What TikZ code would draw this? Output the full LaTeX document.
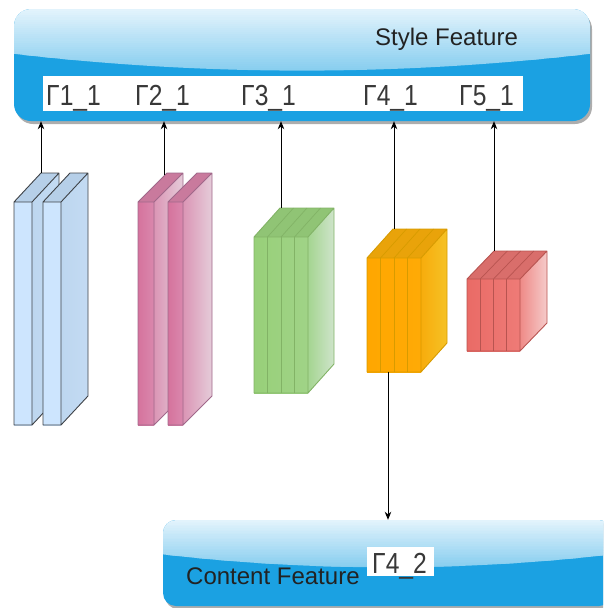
\documentclass[tikz,border=0pt]{standalone}
\usepackage{fontspec}
\usepackage{graphicx}
\setmainfont{Liberation Sans}
\usetikzlibrary{arrows.meta,calc}

% palettes of the feature cubes
\definecolor{bluefrontA}{HTML}{CDE5FE}
\definecolor{bluefrontB}{HTML}{CDE5FE}
\definecolor{bluetop}{HTML}{B6CFE8}
\definecolor{bluesideA}{HTML}{BDD6EF}
\definecolor{bluesideB}{HTML}{C3DBF3}
\definecolor{blueline}{HTML}{3E4247}
\definecolor{pinkfrontA}{HTML}{D5739D}
\definecolor{pinkfrontB}{HTML}{DA88AD}
\definecolor{pinktop}{HTML}{C97A9D}
\definecolor{pinksideA}{HTML}{DB95B5}
\definecolor{pinksideB}{HTML}{E5CCD9}
\definecolor{pinkline}{HTML}{A0688A}
\definecolor{greenfrontA}{HTML}{98D079}
\definecolor{greenfrontB}{HTML}{A0D387}
\definecolor{greentop}{HTML}{90C475}
\definecolor{greensideA}{HTML}{A4D590}
\definecolor{greensideB}{HTML}{CFE4CB}
\definecolor{greenline}{HTML}{82B366}
\definecolor{orangefrontA}{HTML}{FFA700}
\definecolor{orangefrontB}{HTML}{FFAA06}
\definecolor{orangetop}{HTML}{E9A30A}
\definecolor{orangesideA}{HTML}{F7AC0C}
\definecolor{orangesideB}{HTML}{F6C226}
\definecolor{orangeline}{HTML}{D79B00}
\definecolor{redfrontA}{HTML}{EA6B66}
\definecolor{redfrontB}{HTML}{EE7B77}
\definecolor{redtop}{HTML}{D96E6B}
\definecolor{redsideA}{HTML}{EF8A87}
\definecolor{redsideB}{HTML}{F5CBCA}
\definecolor{redline}{HTML}{B85450}
\definecolor{panelblue}{HTML}{1BA1E2}
\definecolor{glosshigh}{HTML}{E2F3FC}
\definecolor{glosslow}{HTML}{86CDEF}
\definecolor{inktext}{HTML}{222222}

% cube: front top-left (#1,#2), front bottom-right (#3,#4), depth (#5,#6), #7 slices, #8 palette
\newcommand{\featcube}[8]{%
  \shade[left color=#8sideA, right color=#8sideB]
    (#3,#2) -- (#3+#5,#2-#6) -- (#3+#5,#4-#6) -- (#3,#4) -- cycle;
  \fill[#8top] (#1,#2) -- (#1+#5,#2-#6) -- (#3+#5,#2-#6) -- (#3,#2) -- cycle;
  \shade[left color=#8frontA, right color=#8frontB] (#1,#2) rectangle (#3,#4);
  \ifnum#7>1
    \pgfmathtruncatemacro\cubelast{#7-1}
    \foreach \k in {1,...,\cubelast}{
      \pgfmathsetmacro\cubex{#1+\k*(#3-#1)/#7}
      \draw[#8line, line width=0.7pt] (\cubex,#2) -- (\cubex,#4);
      \draw[#8line, line width=0.7pt] (\cubex,#2) -- (\cubex+#5,#2-#6);
    }
  \fi
  \draw[#8line, line width=0.9pt, line join=round]
    (#1,#2) rectangle (#3,#4)
    (#1,#2) -- (#1+#5,#2-#6) -- (#3+#5,#2-#6) -- (#3+#5,#4-#6) -- (#3,#4)
    (#3,#2) -- (#3+#5,#2-#6);
}

% glossy highlight as thin horizontal bands from x=#1..#3, y=#2..#4 (inside a clip)
\newcommand{\glossbands}[4]{%
  \foreach \i in {0,...,29}{
    \pgfmathsetmacro\bandtop{#2+\i*(#4-#2)/30}
    \pgfmathsetmacro\bandbot{#2+(\i+1)*(#4-#2)/30+0.5}
    \pgfmathtruncatemacro\bandpct{100*\i/29}
    \fill[glosslow!\bandpct!glosshigh] (#1,\bandtop) rectangle (#3,\bandbot);
  }%
}

\tikzset{
  panel/.style={fill=panelblue, draw=none, inner sep=0pt},
  panelshadow/.style={fill=black, opacity=0.32},
  caption/.style={font=\fontsize{24}{24}\selectfont, text=inktext, inner sep=0pt, anchor=base west},
  gamma/.style={font=\fontsize{29}{29}\selectfont, text=inktext!90, inner sep=0pt, anchor=base west},
  whitebg/.style={fill=white, draw=none, inner sep=0pt},
  conn/.style={draw=black, line width=1pt, -{Stealth[length=8pt,width=6.5pt,inset=2.5pt]}},
}

\begin{document}
\begin{tikzpicture}[x=1pt, y=-1pt]
\useasboundingbox (0,0) rectangle (603,608);
\clip (0,0) rectangle (603,608);

% style feature panel
\fill[panelshadow, rounded corners=17pt] (16,12) rectangle (592,124);
\node[panel, rounded corners=17pt, minimum width=576pt, minimum height=112pt] (style) at (302,65) {};
\begin{scope}
  \clip[rounded corners=17pt] (14,9) rectangle (590,121);
  \clip (14,9) -- (14,53.8) .. controls (206,76.2) and (398,76.2) .. (590,53.8) -- (590,9) -- cycle;
  \glossbands{14}{9}{590}{72}
\end{scope}
\node[caption] (stylecap) at (375,45) {Style Feature};
\node[whitebg, minimum width=480pt, minimum height=35pt] (strip) at (283,93.5) {};
\node[gamma] (g11) at (46,105) {\scalebox{0.85}[1]{Γ1\_1}};
\node[gamma] (g21) at (135,105) {\scalebox{0.85}[1]{Γ2\_1}};
\node[gamma] (g31) at (241,105) {\scalebox{0.85}[1]{Γ3\_1}};
\node[gamma] (g41) at (363,105) {\scalebox{0.85}[1]{Γ4\_1}};
\node[gamma] (g51) at (459,105) {\scalebox{0.85}[1]{Γ5\_1}};

% content feature panel
\fill[panelshadow, rounded corners=13pt] (165,523) rectangle (614,609);
\node[panel, rounded corners=13pt, minimum width=449pt, minimum height=86pt] (content) at (387.5,563) {};
\begin{scope}
  \clip[rounded corners=13pt] (163,520) rectangle (612,606);
  \clip (163,520) -- (163,554.4) .. controls (312.7,571.6) and (462.3,571.6) .. (612,554.4) -- (612,520) -- cycle;
  \glossbands{163}{520}{612}{568}
\end{scope}
\node[caption] (contentcap) at (186,584) {Content Feature};
\node[whitebg, minimum width=67pt, minimum height=29pt] (g42bg) at (400.5,561.5) {};
\node[gamma] (g42) at (372,573) {\scalebox{0.85}[1]{Γ4\_2}};

% feature cubes
\featcube{14}{202}{32}{425}{27}{29}{1}{blue}
\featcube{43}{202}{61}{425}{27}{29}{1}{blue}
\featcube{138}{202}{154}{425}{29}{29}{1}{pink}
\featcube{168}{202}{183}{425}{29}{29}{1}{pink}
\featcube{254}{237}{308}{393}{26}{29}{4}{green}
\featcube{367}{258}{421}{372}{26}{29}{4}{orange}
\featcube{467}{279}{520}{351}{27}{28}{4}{red}

% connector ends on the cubes
\coordinate (c1) at (41,173);
\coordinate (c2) at (164,175);
\coordinate (c3) at (281,208);
\coordinate (c4) at (394,229);
\coordinate (c5) at (494,251);
\coordinate (c4b) at (388,372);

\draw[conn] (c1) -- (c1 |- style.south);
\draw[conn] (c2) -- (c2 |- style.south);
\draw[conn] (c3) -- (c3 |- style.south);
\draw[conn] (c4) -- (c4 |- style.south);
\draw[conn] (c5) -- (c5 |- style.south);
\draw[conn] (c4b) -- (c4b |- content.north);
\end{tikzpicture}
\end{document}
